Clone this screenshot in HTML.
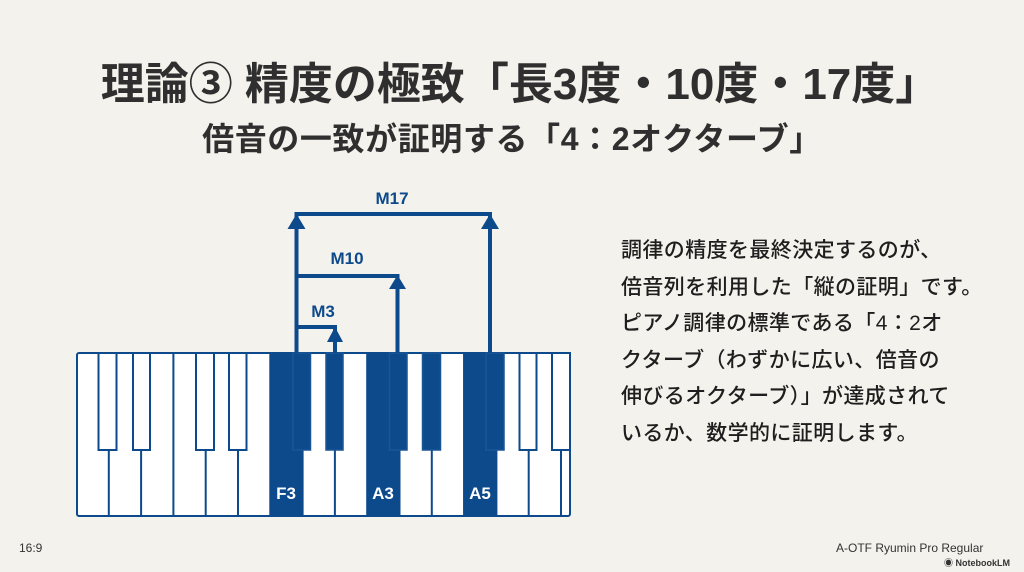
<!DOCTYPE html>
<html><head><meta charset="utf-8"><style>
html,body{margin:0;padding:0}
body{width:1024px;height:572px;background:#f4f2ec;position:relative;overflow:hidden;font-family:"Liberation Sans","Noto Sans CJK JP",sans-serif;color:#2f2f2f}
.t{position:absolute;left:0;width:1024px;text-align:center;font-weight:bold;white-space:nowrap}
.p{position:absolute;left:621px;top:233px;font-size:21px;letter-spacing:0.4px;line-height:36.6px;font-weight:500;color:#1e1e1e;white-space:nowrap}
.s{position:absolute;font-size:12px;color:#333}
</style></head><body>
<div class="t" style="top:48px;font-size:44px;left:8px">理論③ 精度の極致「長3度・10度・17度」</div>
<div class="t" style="top:114px;font-size:32px;left:0px;letter-spacing:0.6px">倍音の一致が証明する「4：2オクターブ」</div>
<div class="p">調律の精度を最終決定するのが、<br>倍音列を利用した「縦の証明」です。<br>ピアノ調律の標準である「4：2オ<br>クターブ（わずかに広い、倍音の<br>伸びるオクターブ）」が達成されて<br>いるか、数学的に証明します。</div>
<svg style="position:absolute;left:0;top:0" width="1024" height="572">
<g stroke="#0d4a8c" stroke-width="2" fill="#fff">
<rect x="77" y="353" width="493" height="163" rx="2"/>
</g>
<g fill="#0d4a8c">
<rect x="270" y="353" width="32.3" height="163"/>
<rect x="366.7" y="353" width="32.3" height="163"/>
<rect x="463.3" y="353" width="32.3" height="163"/>
</g>
<g stroke="#0d4a8c" stroke-width="2">
<line x1="108.8" y1="353" x2="108.8" y2="516"/><line x1="141.1" y1="353" x2="141.1" y2="516"/><line x1="173.4" y1="353" x2="173.4" y2="516"/><line x1="205.7" y1="353" x2="205.7" y2="516"/><line x1="238" y1="353" x2="238" y2="516"/><line x1="270.3" y1="353" x2="270.3" y2="516"/><line x1="302.6" y1="353" x2="302.6" y2="516"/><line x1="334.9" y1="353" x2="334.9" y2="516"/><line x1="367.2" y1="353" x2="367.2" y2="516"/><line x1="399.5" y1="353" x2="399.5" y2="516"/><line x1="431.8" y1="353" x2="431.8" y2="516"/><line x1="464.1" y1="353" x2="464.1" y2="516"/><line x1="496.4" y1="353" x2="496.4" y2="516"/><line x1="528.7" y1="353" x2="528.7" y2="516"/><line x1="561" y1="353" x2="561" y2="516"/>
</g>
<g stroke="#0d4a8c" stroke-width="2" fill="#fff">
<rect x="98.5" y="353" width="18" height="97"/><rect x="133" y="353" width="17" height="97"/>
<rect x="196" y="353" width="18" height="97"/><rect x="229" y="353" width="17.5" height="97"/>
<rect x="519.5" y="353" width="17" height="97"/><rect x="552" y="353" width="18" height="97"/>
</g>
<g stroke="#1a5596" stroke-width="1.5" fill="#0d4a8c">
<rect x="293" y="353" width="17.5" height="97"/><rect x="326" y="353" width="17" height="97"/>
<rect x="389.5" y="353" width="17.5" height="97"/><rect x="422.5" y="353" width="18" height="97"/>
<rect x="486" y="353" width="18" height="97"/>
</g>
<g font-weight="bold" font-size="17" fill="#fff" text-anchor="middle" font-family="Liberation Sans,sans-serif">
<text x="286" y="499">F3</text><text x="383" y="499">A3</text><text x="480" y="499">A5</text>
</g>
<g stroke="#0d4a8c" stroke-width="4" fill="none">
<polyline points="296.5,353 296.5,214 490,214 490,353"/>
<polyline points="296.5,276 397.5,276 397.5,353"/>
<polyline points="296.5,327 335,327 335,353"/>
</g>
<g fill="#0d4a8c">
<polygon points="296.5,214 287.5,229 305.5,229"/>
<polygon points="490,214 481,229 499,229"/>
<polygon points="397.5,275 389,289 406,289"/>
<polygon points="335,327 327,342 343,342"/>
</g>
<g font-weight="bold" font-size="17" fill="#0d4a8c" text-anchor="middle" font-family="Liberation Sans,sans-serif">
<text x="392" y="204">M17</text><text x="347" y="264">M10</text><text x="323" y="317">M3</text>
</g>
</svg>
<div class="s" style="left:19px;top:541px">16:9</div>
<div class="s" style="left:836px;top:541px">A-OTF Ryumin Pro Regular</div>
<div class="s" style="left:944px;top:556px;font-size:9px;font-weight:bold">◉ NotebookLM</div>
</body></html>
